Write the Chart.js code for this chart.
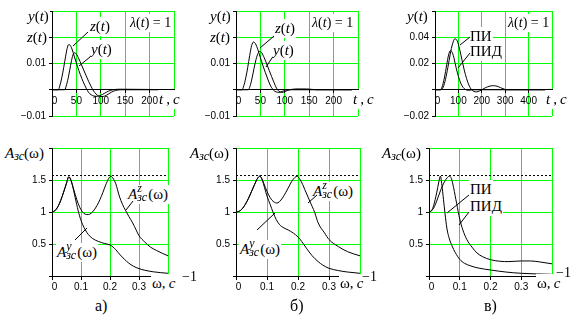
<!DOCTYPE html>
<html><head><meta charset="utf-8">
<script src="https://cdn.jsdelivr.net/npm/chart.js@4/dist/chart.umd.min.js"></script>
<style>
html,body{margin:0;padding:0;background:#fff;}
body{width:584px;height:322px;position:relative;overflow:hidden;}
canvas{position:absolute;}
.t{position:absolute;font-family:'Liberation Serif','Times New Roman',serif;font-size:15px;line-height:15px;white-space:nowrap;color:#000;background:#fff;padding:2px 1px;z-index:3;}
.t i{font-style:italic;}
.sb{font-size:12px;position:relative;top:2px;}
.st{display:inline-block;position:relative;width:11px;height:1px;}
.st .u{position:absolute;left:0;top:-16px;font-size:12px;line-height:12px;}
.st .d{position:absolute;left:0;top:-7px;font-size:12px;line-height:12px;}
svg{position:absolute;left:0;top:0;z-index:4;}
</style></head>
<body>
<canvas id="ta"></canvas><canvas id="tb"></canvas><canvas id="tc"></canvas>
<canvas id="ba"></canvas><canvas id="bb"></canvas><canvas id="bc"></canvas>

<!-- top a -->
<div class="t" style="left:27px;top:7px"><i>y</i>(<i>t</i>)</div>
<div class="t" style="left:26px;top:28px"><i>z</i>(<i>t</i>)</div>
<div class="t" style="left:89px;top:17px"><i>z</i>(<i>t</i>)</div>
<div class="t" style="left:90px;top:40px"><i>y</i>(<i>t</i>)</div>
<div class="t" style="left:129px;top:14px;font-size:14px;line-height:14px"><i>λ</i>(<i>t</i>) = 1</div>
<div class="t" style="left:158px;top:90px"><i>t</i>&thinsp;,&thinsp;<i>c</i></div>
<!-- top b -->
<div class="t" style="left:209px;top:7px"><i>y</i>(<i>t</i>)</div>
<div class="t" style="left:209px;top:28px"><i>z</i>(<i>t</i>)</div>
<div class="t" style="left:274px;top:19px"><i>z</i>(<i>t</i>)</div>
<div class="t" style="left:272px;top:41px"><i>y</i>(<i>t</i>)</div>
<div class="t" style="left:311px;top:14px;font-size:14px;line-height:14px"><i>λ</i>(<i>t</i>) = 1</div>
<div class="t" style="left:352px;top:90px"><i>t</i>&thinsp;,&thinsp;<i>c</i></div>
<!-- top c -->
<div class="t" style="left:406px;top:7px"><i>y</i>(<i>t</i>)</div>
<div class="t" style="left:469px;top:27px">ПИ</div>
<div class="t" style="left:469px;top:42px">ПИД</div>
<div class="t" style="left:507px;top:14px;font-size:14px;line-height:14px"><i>λ</i>(<i>t</i>) = 1</div>
<div class="t" style="left:545px;top:90px"><i>t</i>&thinsp;,&thinsp;<i>c</i></div>
<!-- bottom titles -->
<div class="t" style="left:4px;top:144px"><i>A</i><i class="sb">зс</i>(ω)</div>
<div class="t" style="left:189px;top:144px"><i>A</i><i class="sb">зс</i>(ω)</div>
<div class="t" style="left:381px;top:144px"><i>A</i><i class="sb">зс</i>(ω)</div>
<div class="t" style="left:127px;top:185px"><i>A</i><span class="st"><i class="u">z</i><i class="d">зс</i></span>(ω)</div>
<div class="t" style="left:56px;top:243px"><i>A</i><span class="st"><i class="u">y</i><i class="d">зс</i></span>(ω)</div>
<div class="t" style="left:312px;top:182px"><i>A</i><span class="st"><i class="u">z</i><i class="d">зс</i></span>(ω)</div>
<div class="t" style="left:239px;top:240px"><i>A</i><span class="st"><i class="u">y</i><i class="d">зс</i></span>(ω)</div>
<div class="t" style="left:469px;top:180px">ПИ</div>
<div class="t" style="left:469px;top:197px">ПИД</div>
<div class="t" style="left:151px;top:274px">ω,&thinsp;<i>c</i></div>
<div class="t" style="left:339px;top:274px">ω,&thinsp;<i>c</i></div>
<div class="t" style="left:536px;top:274px">ω,&thinsp;<i>c</i></div>
<div class="t" style="left:181px;top:268px;font-size:14px;line-height:14px;background:none">−1</div>
<div class="t" style="left:361px;top:268px;font-size:14px;line-height:14px;background:none">−1</div>
<div class="t" style="left:555px;top:264px;font-size:14px;line-height:14px;background:none">−1</div>
<div class="t" style="left:94px;top:296px;font-size:16px;line-height:16px">а)</div>
<div class="t" style="left:289px;top:296px;font-size:16px;line-height:16px">б)</div>
<div class="t" style="left:483px;top:296px;font-size:16px;line-height:16px">в)</div>

<svg width="584" height="322" stroke="#000" stroke-width="1">
<line x1="88" y1="32" x2="73" y2="46"/>
<line x1="90" y1="57" x2="79" y2="66"/>
<line x1="274" y1="36" x2="260" y2="48"/>
<line x1="272" y1="58" x2="266" y2="67"/>
<line x1="470" y1="37" x2="460" y2="45"/>
<line x1="470" y1="53" x2="458" y2="68"/>
<line x1="133" y1="201" x2="126" y2="210"/>
<line x1="75" y1="240" x2="87" y2="228"/>
<line x1="317" y1="195" x2="308" y2="203"/>
<line x1="257" y1="230" x2="275" y2="213"/>
<line x1="469" y1="195" x2="447" y2="213"/>
<line x1="469" y1="212" x2="459" y2="225"/>
</svg>

<script>
// ---------- data: time responses ----------
const tZa = [0,13,16,20,24,28,31,34,37,41,46,52,58,64,70,75,80,86,93,100,108,116,125,140,250];
const zA  = [0,0,0.0015,0.0045,0.0085,0.0128,0.0157,0.0172,0.0170,0.0155,0.0125,0.0090,0.0058,0.0030,0.0006,-0.0010,-0.0019,-0.0024,-0.0025,-0.0021,-0.0013,-0.0005,0,0.0002,0];
const tYa = [0,26,30,34,38,42,46,50,55,60,65,70,75,80,85,90,96,102,108,115,122,130,140,250];
const yA  = [0,0,0.002,0.0052,0.0092,0.0127,0.0141,0.0136,0.0118,0.0097,0.0075,0.0053,0.0032,0.0013,-0.0004,-0.0016,-0.0024,-0.0026,-0.0024,-0.0017,-0.0009,-0.0003,0,0];

const tZb = [0,12,16,20,24,28,32,36,40,45,50,55,60,65,70,76,82,88,95,105,250];
const zB  = [0,0,0.0015,0.0045,0.0085,0.013,0.0168,0.0182,0.0175,0.0152,0.0122,0.0093,0.0066,0.0041,0.0018,0,-0.0008,-0.001,-0.0006,0,0];
const tYb = [0,25,29,33,37,41,45,49,53,58,63,68,73,78,83,88,94,100,110,125,145,165,250];
const yB  = [0,0,0.0015,0.0045,0.0082,0.0115,0.0138,0.0146,0.014,0.0121,0.0098,0.0074,0.005,0.0027,0.0006,-0.0006,-0.001,-0.0007,0,0.0003,0.0003,0,0];

const tPI  = [0,25,35,45,55,65,75,85,95,105,115,125,135,145,155,165,178,190,200,215,235,250,265,280,295,305,500];
const yPI  = [0,0,0.002,0.008,0.017,0.027,0.035,0.0388,0.0372,0.031,0.023,0.015,0.0085,0.0035,0.0003,-0.0012,-0.0016,-0.0009,0,0.0015,0.0028,0.0031,0.0027,0.0016,0.0005,0,0];
const tPID = [0,22,30,40,50,58,66,74,82,90,100,110,120,130,140,155,170,500];
const yPID = [0,0,0.002,0.009,0.019,0.0265,0.0298,0.0283,0.0235,0.017,0.0102,0.005,0.0018,0.0002,-0.0004,-0.0002,0,0];

// ---------- data: frequency responses ----------
const wZa = [0,0.01,0.02,0.03,0.04,0.05,0.058,0.065,0.075,0.085,0.095,0.105,0.115,0.125,0.135,0.145,0.155,0.165,0.175,0.185,0.195,0.203,0.21,0.22,0.232,0.243,0.253,0.265,0.278,0.29,0.3,0.32,0.34,0.36,0.38,0.4];
const AzA = [1,1.02,1.08,1.18,1.31,1.45,1.55,1.5,1.35,1.2,1.08,1.0,0.965,0.96,0.98,1.03,1.1,1.19,1.3,1.42,1.52,1.56,1.53,1.44,1.25,1.12,1.03,0.93,0.83,0.72,0.63,0.53,0.45,0.4,0.355,0.315];
const wYa = [0,0.01,0.02,0.03,0.04,0.05,0.058,0.065,0.075,0.085,0.095,0.105,0.115,0.125,0.14,0.16,0.18,0.2,0.21,0.22,0.235,0.25,0.265,0.28,0.3,0.32,0.35,0.4];
const AyA = [1,1.02,1.08,1.18,1.31,1.45,1.55,1.5,1.33,1.12,0.94,0.81,0.72,0.65,0.585,0.54,0.51,0.485,0.455,0.41,0.33,0.26,0.2,0.155,0.115,0.09,0.065,0.042];

const wZb = [0,0.01,0.02,0.03,0.04,0.05,0.06,0.07,0.077,0.085,0.095,0.105,0.115,0.125,0.131,0.14,0.15,0.16,0.17,0.18,0.19,0.197,0.205,0.215,0.222,0.238,0.254,0.265,0.286,0.3,0.33,0.36,0.4];
const AzB = [1,1.01,1.05,1.12,1.21,1.32,1.43,1.53,1.56,1.5,1.38,1.27,1.19,1.15,1.14,1.16,1.22,1.3,1.39,1.48,1.54,1.56,1.52,1.43,1.35,1.17,0.99,0.83,0.67,0.57,0.46,0.38,0.315];
const wYb = [0,0.01,0.02,0.03,0.04,0.05,0.06,0.07,0.077,0.085,0.092,0.1,0.11,0.12,0.13,0.141,0.155,0.168,0.185,0.2,0.212,0.227,0.245,0.265,0.28,0.3,0.33,0.36,0.4];
const AyB = [1,1.01,1.05,1.12,1.21,1.32,1.43,1.53,1.56,1.5,1.38,1.25,1.12,0.99,0.88,0.8,0.75,0.72,0.67,0.61,0.54,0.435,0.32,0.225,0.17,0.12,0.085,0.062,0.042];

const wPI  = [0,0.008,0.015,0.025,0.032,0.037,0.042,0.047,0.052,0.058,0.065,0.075,0.085,0.1,0.115,0.134,0.16,0.2,0.25,0.3,0.35,0.4];
const API  = [1,1.02,1.1,1.3,1.47,1.56,1.42,1.2,0.98,0.75,0.6,0.47,0.37,0.26,0.2,0.16,0.125,0.094,0.062,0.042,0.032,0.026];
const wPID = [0,0.008,0.015,0.025,0.037,0.05,0.06,0.067,0.073,0.08,0.09,0.1,0.11,0.123,0.14,0.156,0.175,0.2,0.23,0.26,0.3,0.33,0.36,0.4];
const APID = [1,1.02,1.06,1.17,1.33,1.47,1.54,1.56,1.52,1.38,1.13,0.89,0.72,0.57,0.45,0.36,0.3,0.255,0.23,0.225,0.235,0.235,0.22,0.19];

const peakLevel = 1.57;

// ---------- tick labels ----------
const xTicksT  = [0,50,100,150,200,250];
const xLabelsT = ['0','50','100','150','200',''];
const xTicksC  = [0,100,200,300,400,500];
const xLabelsC = ['0','100','200','300','400',''];
const yTicksT  = [-0.01,0,0.01,0.02,0.03];
const yLabelsT = ['\u22120.01','','0.01','',''];
const yTicksC  = [-0.02,0,0.02,0.04,0.06];
const yLabelsC = ['\u22120.02','','0.02','0.04',''];
const wTicks   = [0,0.1,0.2,0.3,0.4];
const wLabels  = ['0','0.1','0.2','0.3',''];
const aTicks   = [0,0.5,1,1.5,2];
const aLabels  = ['','0.5','1','1.5',''];

// ---------- drawing ----------
const GREEN = '#00ff00';
function lab(vals, labels){
  return v => { for (let k=0;k<vals.length;k++) if (Math.abs(v-vals[k])<1e-9) return (vals[k]===0 && labels[k]==='0') ? '\u2002'+labels[k] : labels[k]; return ''; };
}
function plot(id, box, area, xs, ys, sets){
  const c = document.getElementById(id);
  c.width = box.w; c.height = box.h;
  Object.assign(c.style,{left:box.x+'px',top:box.y+'px',width:box.w+'px',height:box.h+'px'});
  const step = a => a[1]-a[0];
  const yW = area.L - box.x;
  new Chart(c,{
    type:'line',
    data:{datasets:sets.map(s=>({
      data:s.x.map((v,i)=>({x:v,y:s.y[i]})),
      borderColor:'#000', borderWidth:1, borderDash:s.dash||[], pointRadius:0, fill:false,
      cubicInterpolationMode: s.dash ? 'default':'monotone', tension: s.dash?0:0.4
    }))},
    options:{
      responsive:false, animation:false, devicePixelRatio:1,
      layout:{padding:{left:0, right:box.x+box.w-area.R, top:area.T-box.y, bottom:box.y+box.h-area.B}},
      plugins:{legend:{display:false}, tooltip:{enabled:false}},
      scales:{
        x:{type:'linear', min:xs.v[0], max:xs.v[xs.v.length-1], position:{y:0},
           afterFit:s=>{s.height=0;},
           ticks:{stepSize:step(xs.v), autoSkip:false, maxRotation:0, minRotation:0, padding:2, color:'#000',
                  font:{family:'Liberation Sans', size:10}, callback:lab(xs.v,xs.l)},
           grid:{color:ctx=>(ctx.tick && Math.abs(ctx.tick.value)<1e-12)?'#000':GREEN, lineWidth:1, tickLength:3, tickColor:'#000'},
           border:{display:true,color:'#000',width:1}},
        y:{type:'linear', min:ys.v[0], max:ys.v[ys.v.length-1], position:'left',
           afterFit:s=>{s.width=yW;},
           ticks:{stepSize:step(ys.v), autoSkip:false, padding:3, color:'#000',
                  font:{family:'Liberation Sans', size:10}, callback:lab(ys.v,ys.l)},
           grid:{color:ctx=>(ctx.tick && Math.abs(ctx.tick.value)<1e-12)?'#000':GREEN, lineWidth:1, tickLength:3, tickColor:'#000'},
           border:{display:true,color:'#000',width:1}}
      }
    }
  });
}
const XT={v:xTicksT,l:xLabelsT}, XC={v:xTicksC,l:xLabelsC}, YT={v:yTicksT,l:yLabelsT}, YC={v:yTicksC,l:yLabelsC};
const XW={v:wTicks,l:wLabels}, YA={v:aTicks,l:aLabels};
const dashSet = {x:[0,0.4], y:[peakLevel,peakLevel], dash:[2,2]};

plot('ta',{x:0,y:0,w:195,h:130},{L:52,R:174,T:11,B:116},XT,YT,[{x:tZa,y:zA},{x:tYa,y:yA}]);
plot('tb',{x:195,y:0,w:195,h:130},{L:236,R:358,T:11,B:116},XT,YT,[{x:tZb,y:zB},{x:tYb,y:yB}]);
plot('tc',{x:390,y:0,w:194,h:130},{L:435,R:552,T:11,B:116},XC,YC,[{x:tPI,y:yPI},{x:tPID,y:yPID}]);
plot('ba',{x:0,y:130,w:195,h:192},{L:52,R:168,T:148,B:276},XW,YA,[dashSet,{x:wZa,y:AzA},{x:wYa,y:AyA}]);
plot('bb',{x:195,y:130,w:195,h:192},{L:236,R:360,T:148,B:276},XW,YA,[dashSet,{x:wZb,y:AzB},{x:wYb,y:AyB}]);
plot('bc',{x:390,y:130,w:194,h:192},{L:429,R:552,T:148,B:276},XW,YA,[dashSet,{x:wPI,y:API},{x:wPID,y:APID}]);
</script>
</body></html>
